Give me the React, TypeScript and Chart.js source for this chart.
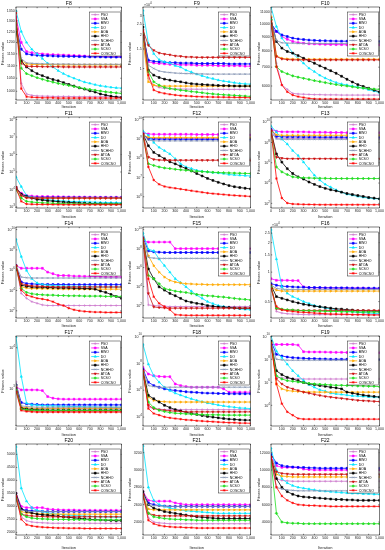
import React, { useEffect, useRef } from "react";
import { Chart, registerables } from "chart.js";
import { drawPoint } from "chart.js/helpers";
Chart.register(...registerables);

const FONT = '"Liberation Sans", Arial, sans-serif';
const ITER = [0,50,100,150,200,250,300,350,400,450,500,550,600,650,700,750,800,850,900,950,1000];
const X_TICKS = [0,100,200,300,400,500,600,700,800,900,1000];
const NAMES = ["PSO","SSA","BWO","DO","AOA","HHO","NCHHO","ATOA","SCSO","COSCSO"];
const COLORS = ["#cc77cc","#ff00ff","#0000ff","#00e5ff","#ffaa00","#000000","#8090b0","#cc1010","#22dd22","#ff0000"];
const STYLES = ["cross","rect","rect","triangle","triangle","rect","crossRot","triangle","rectRot","star"];
const ROTS = [0,0,0,0,90,0,0,180,0,0];

// ---------- data (order: PSO, SSA, BWO, DO, AOA, HHO, NCHHO, ATOA, SCSO, COSCSO) ----------
const F8 = [
[1300,1030,990,985,983,982,982,981,981,981,981,980,980,980,980,980,980,980,980,980,980],
[1320,1200,1160,1155,1152,1150,1148,1147,1146,1145,1144,1143,1142,1141,1140,1140,1139,1139,1138,1138,1138],
[1280,1170,1150,1146,1144,1143,1142,1141,1140,1140,1139,1139,1138,1138,1137,1137,1137,1136,1136,1136,1136],
[1350,1250,1200,1170,1150,1130,1110,1095,1080,1068,1058,1050,1042,1035,1030,1025,1021,1018,1015,1013,1012],
[1250,1120,1108,1106,1105,1105,1105,1105,1104,1104,1104,1104,1104,1104,1104,1104,1104,1104,1104,1104,1104],
[1260,1120,1095,1080,1068,1060,1052,1045,1040,1033,1026,1020,1013,1008,1002,997,990,986,982,979,977],
[1290,1130,1112,1110,1109,1108,1108,1107,1107,1107,1107,1106,1106,1106,1106,1106,1106,1106,1106,1106,1106],
[1300,1110,1098,1097,1097,1096,1096,1096,1096,1095,1095,1095,1095,1095,1095,1095,1095,1095,1095,1095,1095],
[1290,1090,1068,1060,1052,1046,1040,1035,1030,1026,1022,1018,1014,1010,1007,1004,1001,998,996,994,992],
[1340,1010,980,978,977,976,976,976,975,975,975,975,975,975,975,975,975,975,975,975,975],
];
const F9 = [
[20000,8130,7080,6750,6610,6580,6550,6530,6520,6510,6500,6500,6490,6490,6490,6480,6480,6480,6480,6480,6480],
[20600,11500,11200,11100,11000,10900,10900,10800,10800,10800,10700,10700,10700,10700,10600,10600,10600,10600,10600,10500,10500],
[19900,11900,11600,11500,11400,11300,11300,11200,11200,11200,11100,11100,11100,11100,11100,11100,11000,11000,11000,11000,11000],
[33400,16800,13600,12000,11500,11200,10600,10300,9660,9300,8890,8600,8300,8100,7860,7700,7590,7450,7330,7270,7230],
[17400,7590,7080,6940,6940,6940,6940,6940,6940,6940,6940,6940,6940,6940,6940,6940,6940,6940,6940,6940,6940],
[23700,9660,8710,8300,8020,7850,7690,7590,7430,7300,7230,7180,7130,7080,7030,7010,6990,6960,6940,6940,6940],
[21000,10700,10000,9500,9300,9200,9100,9050,9000,9000,8950,8950,8900,8900,8900,8900,8900,8900,8900,8900,8900],
[22100,16200,14600,13800,13500,13300,13000,12900,12700,12700,12600,12600,12600,12600,12600,12600,12600,12600,12600,12600,12600],
[20600,9330,7590,7080,6750,6600,6480,6380,6300,6200,6130,6050,5960,5900,5840,5800,5760,5720,5680,5640,5600],
[21400,8710,6390,6100,5960,5850,5760,5700,5660,5620,5580,5560,5540,5530,5520,5510,5500,5490,5480,5470,5450],
];
const F10 = [
[10040,7230,6050,5840,5650,5620,5610,5600,5590,5590,5580,5580,5580,5570,5570,5570,5570,5570,5570,5570,5570],
[9640,9380,9000,8800,8640,8560,8520,8480,8470,8450,8440,8430,8420,8420,8410,8410,8400,8400,8400,8400,8400],
[10040,9380,9120,9000,8880,8820,8780,8740,8720,8700,8690,8680,8670,8660,8660,8650,8650,8640,8640,8640,8640],
[11450,9770,8880,8400,7850,7500,7230,6940,6750,6550,6400,6280,6170,6100,6050,6000,5950,5890,5820,5760,5680],
[10610,7680,7530,7490,7480,7470,7470,7470,7470,7470,7470,7470,7470,7470,7470,7470,7470,7470,7470,7470,7470],
[10320,8640,8180,7960,7850,7700,7530,7380,7230,7080,6940,6800,6660,6500,6340,6200,6070,5980,5890,5800,5720],
[10200,8700,8550,8520,8520,8500,8500,8500,8500,8500,8500,8500,8500,8500,8500,8500,8500,8500,8500,8500,8500],
[10460,7640,7490,7450,7430,7430,7430,7430,7430,7430,7430,7430,7430,7430,7430,7430,7430,7430,7430,7430,7430],
[10320,7030,6750,6630,6520,6450,6390,6330,6270,6220,6170,6120,6070,6030,6000,5960,5920,5900,5870,5850,5840],
[10200,7030,6050,5720,5570,5500,5460,5420,5400,5390,5390,5390,5390,5390,5390,5390,5390,5390,5390,5390,5390],
];
const F11 = [
[14500,4930,3800,3600,3550,3500,3490,3490,3490,3490,3490,3490,3490,3490,3490,3490,3490,3490,3490,3490,3490],
[11700,6100,4530,4200,4000,3970,3950,3900,3850,3800,3780,3750,3700,3700,3650,3650,3600,3600,3600,3600,3600],
[12700,5000,3800,3600,3500,3490,3480,3470,3460,3450,3450,3440,3440,3430,3430,3420,3420,3420,3410,3410,3400],
[52000,14500,4530,3500,2810,2700,2580,2450,2270,2200,2080,2040,2000,1960,1910,1880,1830,1800,1790,1770,1750],
[12000,4500,3400,3250,3200,3200,3200,3200,3200,3200,3200,3200,3200,3200,3200,3200,3200,3200,3200,3200,3200],
[12700,5380,3970,3200,2690,2480,2270,2150,2000,1900,1830,1750,1680,1620,1580,1540,1520,1500,1490,1480,1475],
[13000,4800,3700,3550,3500,3490,3480,3480,3480,3480,3480,3480,3480,3480,3480,3480,3480,3480,3480,3480,3480],
[13500,4500,3300,3250,3200,3190,3180,3180,3180,3180,3180,3180,3180,3180,3180,3180,3180,3180,3180,3180,3180],
[9400,3200,2080,1910,1800,1720,1680,1620,1580,1540,1520,1500,1490,1480,1475,1470,1465,1460,1460,1460,1460],
[11700,2080,1475,1420,1400,1390,1380,1370,1360,1350,1350,1350,1350,1350,1350,1350,1350,1350,1350,1350,1350],
];
const F12 = [
[1.5e9,1.1e9,1.05e9,1.05e9,1.05e9,1.05e9,1.05e9,1.05e9,1.05e9,1.05e9,1.05e9,1.05e9,1.05e9,1.05e9,1.05e9,1.05e9,1.05e9,1.05e9,1.05e9,1.05e9,1.05e9],
[2.1e9,1.8e9,1.74e9,1.74e9,1.74e9,1.74e9,1.74e9,1.74e9,1.74e9,1.74e9,1.7e9,1.7e9,1.7e9,1.7e9,1.7e9,1.65e9,1.65e9,1.65e9,1.6e9,1.6e9,1.6e9],
[1.74e9,1.0e9,9.8e8,9.7e8,9.7e8,9.6e8,9.6e8,9.6e8,9.5e8,9.5e8,9.5e8,9.5e8,9.5e8,9.5e8,9.5e8,9.5e8,9.5e8,9.5e8,9.5e8,9.5e8,9.5e8],
[2.57e9,1.55e9,6.5e8,3.6e8,2.45e8,1.66e8,9.3e7,5.1e7,3.5e7,2.9e7,2.35e7,2.1e7,1.95e7,1.8e7,1.72e7,1.6e7,1.42e7,1.35e7,1.3e7,1.25e7,1.2e7],
[1.6e9,1.2e9,1.17e9,1.17e9,1.17e9,1.17e9,1.17e9,1.17e9,1.17e9,1.17e9,1.17e9,1.17e9,1.17e9,1.17e9,1.17e9,1.17e9,1.17e9,1.17e9,1.17e9,1.17e9,1.17e9],
[1.74e9,4.4e8,2.0e8,1.37e8,9.3e7,6.5e7,5.1e7,3.8e7,2.9e7,2.2e7,1.6e7,1.2e7,8.9e6,7.0e6,5.6e6,4.6e6,3.8e6,3.3e6,3.0e6,2.75e6,2.55e6],
[1.4e9,8.5e8,8.0e8,7.9e8,7.9e8,7.9e8,7.9e8,7.9e8,7.9e8,7.9e8,7.9e8,7.9e8,7.9e8,7.9e8,7.9e8,7.9e8,7.9e8,7.9e8,7.9e8,7.9e8,7.9e8],
[1.74e9,1.13e8,8.6e7,8.0e7,7.8e7,7.8e7,7.8e7,7.8e7,7.8e7,7.8e7,7.8e7,7.8e7,7.8e7,7.8e7,7.8e7,7.8e7,7.8e7,7.8e7,7.8e7,7.8e7,7.8e7],
[1.42e9,5.1e7,4.2e7,3.5e7,3.1e7,2.9e7,2.65e7,2.5e7,2.35e7,2.2e7,2.1e7,2.0e7,1.95e7,1.85e7,1.8e7,1.76e7,1.72e7,1.68e7,1.65e7,1.62e7,1.6e7],
[1.74e9,3.5e7,7.3e6,4.4e6,3.4e6,3.0e6,2.75e6,2.5e6,2.27e6,2.05e6,1.87e6,1.7e6,1.55e6,1.45e6,1.37e6,1.3e6,1.22e6,1.17e6,1.12e6,1.08e6,1.04e6],
];
const F13 = [
[1.3e9,2.8e8,2.5e8,2.5e8,2.5e8,2.5e8,2.5e8,2.5e8,2.5e8,2.5e8,2.5e8,2.5e8,2.5e8,2.5e8,2.5e8,2.5e8,2.5e8,2.5e8,2.5e8,2.5e8,2.5e8],
[2e9,1.26e9,1.1e9,1.1e9,1.1e9,1.1e9,1.1e9,1.05e9,1e9,1e9,1e9,9.5e8,9.5e8,9.5e8,9e8,9e8,9e8,9e8,9e8,9e8,9e8],
[2e9,4e8,3.6e8,3.5e8,3.5e8,3.5e8,3.4e8,3.4e8,3.4e8,3.3e8,3.3e8,3.3e8,3.3e8,3.3e8,3.2e8,3.2e8,3.2e8,3.2e8,3.2e8,3.2e8,3.2e8],
[4.1e9,1.07e9,2.1e8,6.9e7,1.55e7,5.1e6,1.15e6,2.6e5,5.9e4,1.95e4,7.4e3,4e3,2.1e3,1.26e3,790,630,480,400,330,300,280],
[1.6e9,5.6e8,5e8,5e8,5e8,5e8,5e8,5e8,5e8,5e8,5e8,5e8,5e8,5e8,5e8,5e8,5e8,5e8,5e8,5e8,5e8],
[1.35e9,7.4e6,1.15e6,2.6e5,8.7e4,4.1e4,2.45e4,1.26e4,7.4e3,4.5e3,3e3,2.2e3,1.7e3,1.26e3,930,740,590,480,380,330,280],
[1e9,2.2e8,2e8,2e8,2e8,2e8,2e8,2e8,2e8,2e8,2e8,2e8,2e8,2e8,2e8,2e8,2e8,2e8,2e8,2e8,2e8],
[1.35e9,3.5e6,2.8e6,2.5e6,2.5e6,2.5e6,2.5e6,2.5e6,2.5e6,2.5e6,2.5e6,2.5e6,2.5e6,2.5e6,2.5e6,2.5e6,2.5e6,2.5e6,2.5e6,2.5e6,2.5e6],
[9.3e8,3.8e5,1.26e5,6.9e4,4.1e4,3.5e4,3.3e4,3.2e4,3e4,2.95e4,2.9e4,2.8e4,2.8e4,2.8e4,2.8e4,2.8e4,2.8e4,2.8e4,2.8e4,2.8e4,2.8e4],
[1.35e9,2.8e4,330,107,87,83,79,78,76,74,74,74,74,74,74,74,74,74,74,74,74],
];
const F14 = [
[3.2e6,5.1e3,1.7e3,790,550,380,330,330,330,330,330,330,330,330,330,330,330,330,330,330,330],
[2.8e6,1.55e6,1.55e6,1.55e6,1.55e6,1.55e6,6.4e5,4.5e5,3e5,3e5,2.9e5,2.6e5,2.6e5,2.5e5,2.5e5,2.3e5,2.3e5,2.1e5,2.1e5,2.1e5,2.1e5],
[2.8e6,6.9e4,4.8e4,4.5e4,4.2e4,4e4,4e4,3.9e4,3.9e4,3.9e4,3.8e4,3.8e4,3.8e4,3.8e4,3.8e4,3.8e4,3.8e4,3.8e4,3.8e4,3.8e4,3.8e4],
[1.07e9,2.2e7,9.3e5,1.45e5,5.5e4,3.8e4,3.3e4,3.1e4,2.8e4,2.8e4,2.6e4,2.6e4,2.5e4,2.5e4,2.5e4,2.2e4,2.2e4,2.2e4,2.2e4,2.2e4,2.2e4],
[2.6e6,2.2e4,1.8e4,1.55e4,1.55e4,1.5e4,1.5e4,1.45e4,1.45e4,1.4e4,1.4e4,1.4e4,1.35e4,1.35e4,1.35e4,1.35e4,1.35e4,1.35e4,1.35e4,1.35e4,1.35e4],
[2.6e6,3.3e4,2.6e4,2.2e4,2.1e4,2.1e4,1.95e4,1.95e4,1.8e4,1.8e4,1.8e4,1.65e4,1.65e4,1.55e4,1.55e4,1.35e4,8.7e3,6.5e3,4.1e3,2.6e3,1.7e3],
[2.6e6,2.1e5,1.8e5,1.7e5,1.7e5,1.7e5,1.7e5,1.7e5,1.7e5,1.7e5,1.7e5,1.7e5,1.7e5,1.7e5,1.7e5,1.7e5,1.7e5,1.7e5,1.7e5,1.7e5,1.7e5],
[2.6e6,4.8e4,3.3e4,2.8e4,2.6e4,2.5e4,2.4e4,2.3e4,2.2e4,2.2e4,2.2e4,2.2e4,2.2e4,2.2e4,2.2e4,2.2e4,2.2e4,2.2e4,2.2e4,2.2e4,2.2e4],
[2e6,1.55e4,6.5e3,4.8e3,4.1e3,3.8e3,3.5e3,3.5e3,3.2e3,3.2e3,3e3,3e3,3e3,2.8e3,2.8e3,2.8e3,2.8e3,2.6e3,2.6e3,2.6e3,2.6e3],
[2.8e6,1.07e4,3.5e3,2.5e3,1.7e3,1.45e3,1.15e3,790,450,330,180,126,100,87,80,74,74,69,69,69,69],
];
const F15 = [
[1.4e9,117,100,93,85,79,79,79,79,79,79,79,79,79,79,79,79,79,79,79,79],
[6.2e8,4.9e8,4.9e8,4.9e8,4.9e8,4.9e8,1e8,1e8,1e8,1e8,1e8,1e8,1e8,1e8,1e8,1e8,1e8,1e8,1e8,1e8,1e8],
[1.4e9,5.8e7,4.6e7,4.2e7,3.9e7,3.9e7,3.9e7,3.9e7,3.9e7,3.9e7,3.9e7,3.9e7,3.9e7,3.9e7,3.9e7,3.9e7,3.9e7,3.9e7,3.9e7,3.9e7,3.9e7],
[4.5e9,8.5e7,5.8e7,7.9e6,1.6e6,3.3e5,6.7e4,2.6e4,9.3e3,3.3e3,1.26e3,570,260,160,100,79,62,53,45,39,36],
[9.3e8,1.75e7,1.6e6,3.3e5,1e5,4.5e4,3e4,2.4e4,2e4,1.9e4,1.75e4,1.75e4,1.6e4,1.6e4,1.6e4,1.6e4,1.6e4,1.6e4,1.6e4,1.6e4,1.6e4],
[9.3e8,7.2e5,6.7e4,9.3e3,4.2e3,1.9e3,1.08e3,570,300,220,170,140,100,85,72,67,62,57,53,53,53],
[9.3e8,1.17e7,1e7,9.3e6,9.3e6,9.3e6,9.3e6,9.3e6,9.3e6,9.3e6,9.3e6,9.3e6,9.3e6,9.3e6,9.3e6,9.3e6,9.3e6,9.3e6,9.3e6,9.3e6,9.3e6],
[9.3e8,1.9e3,72,62,57,53,53,53,53,53,53,53,53,53,53,53,53,53,53,53,53],
[9.3e8,1.5e5,6.7e4,2e4,6.2e3,4.5e3,3.3e3,2.8e3,2.4e3,1.9e3,1.5e3,1.26e3,1.08e3,1e3,850,790,670,570,490,450,390],
[1.4e9,6.7e4,850,170,79,36,11,10,9.3,9.3,9.3,9.3,9.3,9.3,9.3,9.3,9.3,9.3,9.3,9.3,9.3],
];
const F16 = [
[7070,3970,3820,3760,3730,3710,3680,3680,3680,3680,3680,3680,3680,3680,3680,3680,3680,3680,3680,3680,3680],
[8570,8250,8250,8250,8190,8190,7070,6960,6910,6910,6910,6910,6860,6860,6860,6860,6860,6860,6810,6810,6810],
[7640,7350,7180,7130,7070,7020,7020,6960,6960,6960,6910,6910,6910,6910,6910,6860,6860,6860,6860,6860,6860],
[27200,13600,7070,6070,5620,5320,5000,4780,4560,4430,4290,4220,4130,4060,3970,3940,3880,3860,3820,3790,3760],
[7070,6550,6400,6400,6400,6400,6400,6400,6400,6400,6400,6400,6400,6400,6400,6400,6400,6400,6400,6400,6400],
[7350,5620,5400,5200,5000,4850,4700,4600,4490,4430,4360,4290,4220,4190,4130,4100,4030,4030,4000,4000,3970],
[7350,6810,6700,6650,6650,6650,6650,6650,6650,6650,6650,6650,6650,6650,6650,6650,6650,6650,6650,6650,6650],
[7350,4220,4130,4100,4100,4060,4060,4060,4060,4060,4060,4060,4060,4060,4060,4060,4060,4060,4060,4060,4060],
[7070,4290,4190,4130,4100,4060,4030,4030,4000,4000,3970,3970,3970,3940,3940,3940,3910,3910,3910,3910,3910],
[6810,4460,4130,4030,3970,3910,3880,3860,3820,3790,3760,3730,3730,3710,3710,3680,3680,3680,3650,3650,3650],
];
const F17 = [
[1460,341,322,316,316,316,316,316,316,316,316,316,316,316,316,316,316,316,316,316,316],
[1100,910,910,910,910,876,624,568,547,537,537,537,537,537,537,537,537,537,537,537,537],
[1210,444,412,404,397,389,389,389,389,389,389,389,389,389,389,389,389,389,389,389,389],
[18600,1940,428,389,382,375,368,368,361,361,354,354,354,348,348,348,341,341,341,341,341],
[1100,341,328,322,322,322,322,322,322,322,322,322,322,322,322,322,322,322,322,322,322],
[1210,322,305,299,293,293,288,288,288,288,288,288,288,288,288,288,288,288,288,288,288],
[1330,368,354,348,341,341,341,341,341,341,341,341,341,341,341,341,341,341,341,341,341],
[1000,305,283,277,272,272,272,272,272,272,272,272,272,272,272,272,272,272,272,272,272],
[910,305,293,288,283,283,283,283,283,283,283,283,283,283,283,283,283,283,283,283,283],
[828,283,267,262,257,257,257,257,257,257,257,257,257,257,257,257,257,257,257,257,257],
];
const F18 = [
[2.75e7,5.7e4,4.3e4,3.9e4,3.6e4,3.6e4,3.6e4,3.6e4,3.6e4,3.6e4,3.6e4,3.6e4,3.6e4,3.6e4,3.6e4,3.6e4,3.6e4,3.6e4,3.6e4,3.6e4,3.6e4],
[4.8e7,1.58e7,1.17e7,1.05e7,1e7,1e7,2.9e6,2.2e6,1.86e6,1.66e6,1.66e6,1.66e6,1.66e6,1.66e6,1.66e6,1.26e6,7.1e5,7.1e5,7.1e5,7.1e5,7.1e5],
[3.6e7,3.9e6,2.2e6,1.66e6,1.26e6,1.05e6,9.5e5,8.5e5,7.6e5,7.1e5,6.8e5,6.3e5,6e5,6e5,5.7e5,5.7e5,5.4e5,5.4e5,5.4e5,5.4e5,5.4e5],
[2.45e9,8.5e7,1.17e7,3.9e6,1.66e6,9.5e5,6e5,4.3e5,3.1e5,2.3e5,1.74e5,1.4e5,1.12e5,9.5e4,7.9e4,6.8e4,6e4,5.4e4,4.8e4,4.6e4,4.3e4],
[2.75e7,3.1e5,1.74e5,1.48e5,1.4e5,1.32e5,1.32e5,1.32e5,1.32e5,1.32e5,1.32e5,1.32e5,1.32e5,1.32e5,1.32e5,1.32e5,1.32e5,1.32e5,1.32e5,1.32e5,1.32e5],
[2.75e7,4.1e5,2.3e5,1.32e5,7.6e4,5.1e4,3.6e4,2.9e4,2.3e4,1.86e4,1.58e4,1.32e4,1.12e4,1e4,8.9e3,7.9e3,7.1e3,6.8e3,6.3e3,6e3,6e3],
[2.75e7,2.2e6,1.86e6,1.66e6,1.66e6,1.66e6,1.66e6,1.66e6,1.66e6,1.66e6,1.66e6,1.66e6,1.66e6,1.66e6,1.66e6,1.66e6,1.66e6,1.66e6,1.66e6,1.66e6,1.66e6],
[2.1e7,7.6e4,4.3e4,3.6e4,3.2e4,2.9e4,2.75e4,2.6e4,2.45e4,2.45e4,2.45e4,2.45e4,2.45e4,2.45e4,2.45e4,2.45e4,2.45e4,2.45e4,2.45e4,2.45e4,2.45e4],
[2.1e7,1.32e5,5.1e4,3.2e4,2.6e4,2.2e4,1.95e4,1.86e4,1.74e4,1.66e4,1.58e4,1.58e4,1.48e4,1.48e4,1.48e4,1.41e4,1.41e4,1.41e4,1.41e4,1.41e4,1.41e4],
[2.75e7,4.3e4,1.86e4,1.41e4,1.05e4,8.9e3,7.9e3,7.1e3,6.3e3,6e3,5.4e3,5.1e3,4.8e3,4.6e3,4.3e3,4.1e3,3.9e3,3.9e3,3.6e3,3.6e3,3.5e3],
];
const F19 = [
[1.93e9,2.7e6,2.4e6,2.2e6,2.1e6,2e6,1.93e6,1.93e6,1.93e6,1.93e6,1.93e6,1.93e6,1.93e6,1.93e6,1.93e6,1.93e6,1.93e6,1.93e6,1.93e6,1.93e6,1.93e6],
[1.93e9,1.93e9,1.93e9,1.93e9,1.93e9,1.7e9,4.5e8,4.3e8,4.3e8,4.3e8,4.2e8,4.1e8,4e8,4e8,3.9e8,3.9e8,3.8e8,3.8e8,3.7e8,3.7e8,3.7e8],
[3.7e9,2.7e8,1.93e8,1.58e8,1.39e8,1.3e8,1.22e8,1.14e8,1.14e8,1.07e8,1.07e8,1e8,1e8,1e8,1e8,1e8,9.4e7,9.4e7,9.4e7,9.4e7,9.4e7],
[1e10,5.2e8,1.39e8,3.7e7,1e7,3.7e6,1.39e6,6.3e5,3.7e5,2.2e5,1.7e5,1.14e5,1e5,8.8e4,7.7e4,6.7e4,6.3e4,5.9e4,5.5e4,5.2e4,5.2e4],
[2.7e9,7.2e5,2.7e5,1.93e5,1.7e5,1.58e5,1.5e5,1.45e5,1.42e5,1.39e5,1.39e5,1.39e5,1.39e5,1.39e5,1.39e5,1.39e5,1.39e5,1.39e5,1.39e5,1.39e5,1.39e5],
[3.7e9,1e7,4.6e6,2.7e6,1.93e6,1.39e6,9.4e5,7.2e5,6.3e5,5.2e5,4.5e5,3.7e5,3.3e5,2.7e5,1.39e5,1.14e5,9.4e4,7.7e4,6.7e4,5.9e4,5.2e4],
[1.93e9,1e8,8.8e7,8.2e7,8.2e7,8.2e7,8.2e7,8.2e7,8.2e7,8.2e7,8.2e7,8.2e7,8.2e7,8.2e7,8.2e7,8.2e7,8.2e7,8.2e7,8.2e7,8.2e7,8.2e7],
[1.93e9,1.93e6,7.2e5,3.7e5,2.7e5,1.93e5,1.39e5,1.14e5,8.8e4,7.2e4,5.9e4,5.2e4,4.5e4,4e4,3.5e4,3.1e4,2.7e4,2.5e4,2.4e4,2.2e4,2.1e4],
[2.7e9,3.7e6,1.93e6,1.39e6,1.22e6,1.07e6,9.4e5,8.2e5,7.2e5,6.7e5,6.3e5,5.9e5,5.5e5,5.5e5,5.2e5,5.2e5,4.8e5,4.8e5,4.5e5,4.5e5,4.2e5],
[2.7e9,7.2e5,1.39e4,2.7e3,1.39e3,720,630,630,630,630,630,630,630,630,630,630,630,630,630,630,630],
];
const F20 = [
[3300,2600,2450,2400,2380,2370,2360,2350,2350,2350,2350,2350,2350,2350,2350,2350,2350,2350,2350,2350,2350],
[3500,3000,2950,2950,2950,2950,2900,2880,2870,2860,2860,2860,2850,2850,2850,2850,2850,2850,2850,2850,2850],
[3400,2900,2850,2830,2820,2810,2800,2800,2800,2800,2800,2800,2800,2800,2800,2800,2800,2800,2800,2800,2800],
[5300,3700,3200,2950,2850,2800,2750,2720,2700,2680,2660,2650,2640,2630,2620,2610,2600,2600,2590,2590,2580],
[3400,2800,2750,2730,2720,2710,2700,2700,2700,2700,2700,2700,2700,2700,2700,2700,2700,2700,2700,2700,2700],
[3500,2900,2800,2750,2700,2680,2660,2640,2620,2600,2580,2560,2540,2520,2500,2490,2480,2470,2460,2450,2450],
[3400,2850,2820,2800,2800,2800,2800,2800,2800,2800,2800,2800,2800,2800,2800,2800,2800,2800,2800,2800,2800],
[3300,2700,2650,2630,2620,2610,2600,2600,2600,2600,2600,2600,2600,2600,2600,2600,2600,2600,2600,2600,2600],
[3300,2700,2600,2550,2530,2520,2510,2500,2500,2500,2490,2490,2490,2490,2480,2480,2480,2480,2480,2480,2480],
[3400,2500,2300,2250,2220,2200,2190,2180,2170,2170,2160,2160,2160,2150,2150,2150,2150,2150,2150,2150,2150],
];
const F21 = [
[2700,2450,2400,2390,2385,2380,2380,2380,2380,2380,2380,2380,2380,2380,2380,2380,2380,2380,2380,2380,2380],
[2750,2650,2640,2640,2640,2640,2620,2610,2600,2600,2600,2600,2600,2600,2600,2600,2600,2600,2600,2600,2600],
[2720,2620,2600,2590,2585,2580,2580,2580,2580,2580,2580,2580,2580,2580,2580,2580,2580,2580,2580,2580,2580],
[3280,2800,2650,2600,2580,2560,2550,2540,2530,2525,2520,2515,2510,2505,2500,2500,2500,2500,2500,2500,2500],
[2700,2550,2540,2540,2540,2540,2540,2540,2540,2540,2540,2540,2540,2540,2540,2540,2540,2540,2540,2540,2540],
[2750,2600,2560,2540,2520,2510,2500,2490,2480,2470,2460,2455,2450,2445,2440,2440,2440,2440,2440,2440,2440],
[2720,2600,2590,2585,2580,2580,2580,2580,2580,2580,2580,2580,2580,2580,2580,2580,2580,2580,2580,2580,2580],
[2700,2500,2480,2470,2470,2470,2470,2470,2470,2470,2470,2470,2470,2470,2470,2470,2470,2470,2470,2470,2470],
[2700,2500,2460,2450,2440,2435,2430,2430,2425,2425,2420,2420,2420,2420,2420,2420,2420,2420,2420,2420,2420],
[2720,2420,2380,2360,2350,2345,2340,2340,2335,2335,2330,2330,2330,2330,2330,2330,2330,2330,2330,2330,2330],
];
const F22 = [
[11000,9000,8800,8750,8700,8700,8700,8700,8700,8700,8700,8700,8700,8700,8700,8700,8700,8700,8700,8700,8700],
[11500,10500,10300,10300,10300,10300,10100,10050,10000,10000,10000,10000,10000,10000,10000,10000,10000,10000,10000,10000,10000],
[11800,10800,10500,10400,10350,10300,10300,10250,10250,10200,10200,10200,10200,10200,10200,10200,10200,10200,10200,10200,10200],
[12500,10000,9000,8500,8200,8000,7900,7800,7700,7600,7550,7500,7450,7400,7350,7300,7300,7250,7250,7200,7200],
[11000,9500,9300,9250,9200,9200,9200,9200,9200,9200,9200,9200,9200,9200,9200,9200,9200,9200,9200,9200,9200],
[11500,9000,8000,7500,7200,7000,6900,6850,6800,6750,6700,6650,6600,6600,6550,6550,6500,6500,6500,6500,6500],
[11000,8000,7800,7700,7650,7600,7600,7600,7600,7600,7600,7600,7600,7600,7600,7600,7600,7600,7600,7600,7600],
[11500,9800,9600,9550,9500,9500,9500,9500,9500,9500,9500,9500,9500,9500,9500,9500,9500,9500,9500,9500,9500],
[11000,5000,4000,3900,3850,3850,3800,3800,3800,3800,3800,3800,3800,3800,3800,3800,3800,3800,3800,3800,3800],
[11500,8000,7000,6500,6200,6000,5950,5900,5900,5850,5850,5800,5800,5800,5800,5800,5800,5800,5800,5800,5800],
];

// ---------- y-axis tick values ----------
const T_F8 = [1000,1050,1100,1150,1200,1250,1300,1350];
const T_E4A = [10000,15000,20000,25000,30000];
const T_F10 = [6000,7000,8000,9000,10000,11000];
const T_F11 = [1e3,1e4,1e5,1e6,1e7,1e8];
const T_F12 = [1e6,1e7,1e8,1e9,1e10];
const T_EVEN = [1e2,1e4,1e6,1e8,1e10];
const T_F16 = [5000,10000,15000,20000,25000];
const T_F17 = [1e3,1e4];
const T_F18 = [1e4,1e6,1e8,1e10];
const T_F20 = [2000,2500,3000,3500,4000,4500,5000];
const T_F21 = [2400,2600,2800,3000,3200];
const T_F22 = [4000,6000,8000,10000,12000];

type PanelDef = { title: string; data: number[][]; type: string; min: number; max: number; ticks: number[]; fmt: string };
const PANELS: PanelDef[] = [
  { title: "F8", data: F8, type: "logarithmic", min: 968, max: 1370, ticks: T_F8, fmt: "plain" },
  { title: "F9", data: F9, type: "logarithmic", min: 5200, max: 35900, ticks: T_E4A, fmt: "e4" },
  { title: "F10", data: F10, type: "logarithmic", min: 5350, max: 11460, ticks: T_F10, fmt: "plain" },
  { title: "F11", data: F11, type: "logarithmic", min: 870, max: 1.4e8, ticks: T_F11, fmt: "pow" },
  { title: "F12", data: F12, type: "logarithmic", min: 2.6e5, max: 1.37e10, ticks: T_F12, fmt: "pow" },
  { title: "F13", data: F13, type: "logarithmic", min: 35, max: 3.2e10, ticks: T_EVEN, fmt: "pow" },
  { title: "F14", data: F14, type: "logarithmic", min: 19.5, max: 1.8e10, ticks: T_EVEN, fmt: "pow" },
  { title: "F15", data: F15, type: "logarithmic", min: 4.9, max: 1.9e10, ticks: T_EVEN, fmt: "pow" },
  { title: "F16", data: F16, type: "logarithmic", min: 3400, max: 28900, ticks: T_F16, fmt: "e4" },
  { title: "F17", data: F17, type: "logarithmic", min: 117, max: 1.95e4, ticks: T_F17, fmt: "pow" },
  { title: "F18", data: F18, type: "logarithmic", min: 2200, max: 1.05e10, ticks: T_F18, fmt: "pow" },
  { title: "F19", data: F19, type: "logarithmic", min: 160, max: 1.05e10, ticks: T_F18, fmt: "pow" },
  { title: "F20", data: F20, type: "linear", min: 1900, max: 5400, ticks: T_F20, fmt: "plain" },
  { title: "F21", data: F21, type: "linear", min: 2250, max: 3300, ticks: T_F21, fmt: "plain" },
  { title: "F22", data: F22, type: "linear", min: 2500, max: 13000, ticks: T_F22, fmt: "plain" },
];

// ---------- layout ----------
const COL_L = [0, 127, 256];
const COL_R = [127, 256, 385];
const PLOT_L = [16, 143, 271];
const PLOT_R = [126, 254, 383];
const ROW_T = [0, 109, 219, 328, 437];
const ROW_B = [109, 219, 328, 437, 550];
const PLOT_T = [7, 117, 227, 336, 444];
const PLOT_B = [100, 208, 318, 426, 535];
const INK = "#262626";
const TICK_PX = 3.6;

function framePlugin(p: PanelDef) {
  return {
    id: "frame",
    afterDraw(chart: any) {
      const { ctx, chartArea: a } = chart;
      const xs = chart.scales.x, ys = chart.scales.y;
      ctx.save();
      ctx.strokeStyle = INK;
      ctx.lineWidth = 0.6;
      ctx.strokeRect(a.left, a.top, a.right - a.left, a.bottom - a.top);
      ctx.beginPath();
      X_TICKS.forEach((v) => {
        const x = xs.getPixelForValue(v);
        ctx.moveTo(x, a.bottom); ctx.lineTo(x, a.bottom - 1.2);
        ctx.moveTo(x, a.top); ctx.lineTo(x, a.top + 1.2);
      });
      p.ticks.forEach((v) => {
        const y = ys.getPixelForValue(v);
        ctx.moveTo(a.left, y); ctx.lineTo(a.left + 1.2, y);
        ctx.moveTo(a.right, y); ctx.lineTo(a.right - 1.2, y);
      });
      ctx.stroke();
      ctx.fillStyle = INK;
      ctx.textAlign = "right";
      ctx.textBaseline = "middle";
      p.ticks.forEach((v) => {
        const y = ys.getPixelForValue(v);
        if (y < a.top - 1 || y > a.bottom + 1) return;
        if (p.fmt === "pow") {
          const e = String(Math.round(Math.log10(v)));
          ctx.font = `2.9px ${FONT}`;
          const ew = ctx.measureText(e).width;
          ctx.fillText(e, a.left - 1.2, y - 1.6);
          ctx.font = `${TICK_PX}px ${FONT}`;
          ctx.fillText("10", a.left - 1.2 - ew, y + 0.3);
        } else {
          ctx.font = `${TICK_PX}px ${FONT}`;
          ctx.fillText(p.fmt === "e4" ? String(v / 1e4) : String(v), a.left - 1.2, y);
        }
      });
      ctx.textAlign = "center";
      ctx.textBaseline = "bottom";
      ctx.fillStyle = "#000";
      ctx.font = `5px ${FONT}`;
      ctx.fillText(p.title, (a.left + a.right) / 2, a.top - 1.2);
      if (p.fmt === "e4") {
        ctx.textAlign = "left";
        ctx.font = `${TICK_PX}px ${FONT}`;
        ctx.fillStyle = INK;
        ctx.fillText("×10", a.left + 1, a.top - 0.5);
        const w = ctx.measureText("×10").width;
        ctx.font = `2.9px ${FONT}`;
        ctx.fillText("4", a.left + 1 + w, a.top - 2.2);
      }
      ctx.restore();
    },
  };
}

const legendPlugin = {
  id: "boxLegend",
  afterDraw(chart: any) {
    const { ctx, chartArea: a } = chart;
    const w = 31, rowH = 4.3, h = rowH * NAMES.length + 1;
    const x0 = a.right - w - 0.8, y0 = a.top + 5;
    ctx.save();
    ctx.fillStyle = "#fff";
    ctx.fillRect(x0, y0, w, h);
    ctx.strokeStyle = INK;
    ctx.lineWidth = 0.5;
    ctx.strokeRect(x0, y0, w, h);
    ctx.textAlign = "left";
    ctx.textBaseline = "middle";
    ctx.font = `3.5px ${FONT}`;
    NAMES.forEach((n, i) => {
      const cy = y0 + 0.5 + rowH * (i + 0.5);
      ctx.strokeStyle = COLORS[i];
      ctx.lineWidth = 0.8;
      ctx.beginPath();
      ctx.moveTo(x0 + 1.5, cy);
      ctx.lineTo(x0 + 9.5, cy);
      ctx.stroke();
      ctx.fillStyle = COLORS[i];
      ctx.lineWidth = 0.6;
      drawPoint(ctx, { pointStyle: STYLES[i], radius: 1.3, rotation: ROTS[i], borderWidth: 0.6 } as any, x0 + 5.5, cy);
      ctx.fillStyle = "#000";
      ctx.fillText(n, x0 + 11, cy + 0.2);
    });
    ctx.restore();
  },
};

function PanelChart({ p, r, c }: { p: PanelDef; r: number; c: number }) {
  const ref = useRef<HTMLCanvasElement>(null);
  const w = COL_R[c] - COL_L[c];
  const h = ROW_B[r] - ROW_T[r];
  useEffect(() => {
    const yW = PLOT_L[c] - COL_L[c];
    const xH = ROW_B[r] - PLOT_B[r];
    const chart = new Chart(ref.current as HTMLCanvasElement, {
      type: "line",
      data: {
        datasets: NAMES.map((n, i) => ({
          label: n,
          data: ITER.map((x, k) => ({ x, y: p.data[i][k] })),
          borderColor: COLORS[i],
          backgroundColor: COLORS[i],
          borderWidth: 0.8,
          pointStyle: STYLES[i] as any,
          pointRotation: ROTS[i],
          pointRadius: 1.3,
          pointBorderWidth: 0.6,
          pointBorderColor: COLORS[i],
          pointBackgroundColor: COLORS[i],
          fill: false,
          tension: 0,
          order: NAMES.length - i,
        })),
      },
      options: {
        responsive: false,
        animation: false,
        devicePixelRatio: 1,
        events: [],
        layout: { padding: { top: PLOT_T[r] - ROW_T[r], right: COL_R[c] - PLOT_R[c], left: 0, bottom: 0 } },
        plugins: { legend: { display: false }, tooltip: { enabled: false }, title: { display: false } },
        scales: {
          x: {
            type: "linear",
            min: 0,
            max: 1000,
            afterBuildTicks: (s: any) => { s.ticks = X_TICKS.map((v) => ({ value: v })); },
            afterFit: (s: any) => { s.height = xH; },
            ticks: { font: { size: TICK_PX, family: FONT }, color: INK, padding: 1, maxRotation: 0, minRotation: 0, autoSkip: false },
            grid: { display: false, drawTicks: false },
            border: { display: false },
            title: { display: true, text: "Iteration", font: { size: 4, family: FONT }, color: INK, padding: 0 },
          },
          y: {
            type: p.type as any,
            min: p.min,
            max: p.max,
            afterBuildTicks: (s: any) => { s.ticks = p.ticks.map((v) => ({ value: v })); },
            afterFit: (s: any) => { s.width = yW; },
            ticks: { display: false },
            grid: { display: false, drawTicks: false },
            border: { display: false },
            title: { display: true, text: "Fitness value", font: { size: 4, family: FONT }, color: INK, padding: 0 },
          },
        },
      } as any,
      plugins: [framePlugin(p), legendPlugin],
    });
    return () => chart.destroy();
  }, []);
  return (
    <canvas
      ref={ref}
      width={w}
      height={h}
      style={{ position: "absolute", left: COL_L[c], top: ROW_T[r], width: w, height: h }}
    />
  );
}

export default function App() {
  return (
    <div style={{ position: "absolute", left: 0, top: 0, width: 385, height: 550, background: "#fff" }}>
      {PANELS.map((p, i) => (
        <PanelChart key={p.title} p={p} r={Math.floor(i / 3)} c={i % 3} />
      ))}
    </div>
  );
}
